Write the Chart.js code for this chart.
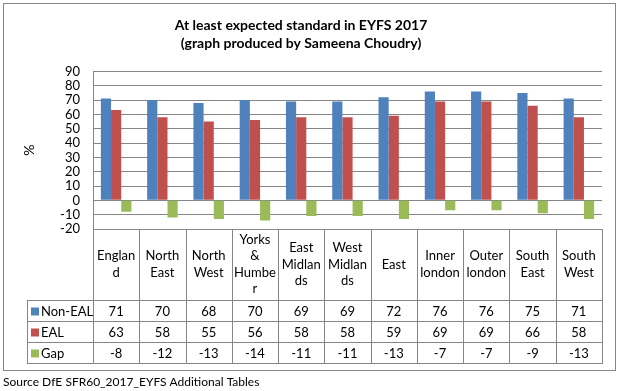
<!DOCTYPE html>
<html lang="en">
  <head>
    <meta charset="UTF-8" />
    <title>At least expected standard in EYFS 2017</title>
    <script src="https://cdn.jsdelivr.net/npm/chart.js"></script>
    <style>
      body { margin: 0; background: #fff; }
      canvas { display: block; }
    </style>
  </head>
  <body>
    <canvas id="eyfsChart" width="623" height="391"></canvas>

    <script>
      // region labels, already wrapped the way the table shows them
      const regionLabels = [
        ["Englan", "d"],
        ["North", "East"],
        ["North", "West"],
        ["Yorks", "&", "Humbe", "r"],
        ["East", "Midlan", "ds"],
        ["West", "Midlan", "ds"],
        ["East"],
        ["Inner", "london"],
        ["Outer", "london"],
        ["South", "East"],
        ["South", "West"],
      ];
      const nonEal = [71, 70, 68, 70, 69, 69, 72, 76, 76, 75, 71];
      const eal = [63, 58, 55, 56, 58, 58, 59, 69, 69, 66, 58];
      const gap = [-8, -12, -13, -14, -11, -11, -13, -7, -7, -9, -13];
      const yTicks = [90, 80, 70, 60, 50, 40, 30, 20, 10, 0, -10, -20];

      const lineGrey = "#868686";
      const fontFamily = "Lato, 'Open Sans', sans-serif";

      // data table under the plot, drawn from the x scale positions
      const dataTable = {
        id: "dataTable",
        beforeDraw(chart) {
          const ctx = chart.ctx;
          ctx.save();
          ctx.fillStyle = "#fff";
          ctx.fillRect(0, 0, chart.width, chart.height);
          ctx.restore();
        },
        afterDraw(chart) {
          const ctx = chart.ctx;
          const area = chart.chartArea;
          const x = chart.scales.x;
          const n = regionLabels.length;
          const colW = (area.right - area.left) / n;
          const headTop = area.bottom;
          const headBottom = 300;
          const rowH = 21;
          const tableBottom = headBottom + rowH * 3;
          const legendLeft = 27;

          ctx.save();
          ctx.strokeStyle = lineGrey;
          ctx.lineWidth = 1;
          ctx.beginPath();
          // vertical lines
          for (let i = 0; i <= n; i++) {
            const px = Math.round(area.left + i * colW) + 0.5;
            ctx.moveTo(px, headTop);
            ctx.lineTo(px, tableBottom);
          }
          ctx.moveTo(legendLeft + 0.5, headBottom);
          ctx.lineTo(legendLeft + 0.5, tableBottom);
          // horizontal lines
          for (let r = 0; r <= 3; r++) {
            const py = headBottom + r * rowH + 0.5;
            ctx.moveTo(legendLeft, py);
            ctx.lineTo(Math.round(area.right) + 1, py);
          }
          ctx.stroke();

          // header labels
          ctx.fillStyle = "#000";
          ctx.font = "13px " + fontFamily;
          ctx.textAlign = "center";
          ctx.textBaseline = "middle";
          const lineH = 16.5;
          const headMid = (headTop + headBottom) / 2;
          regionLabels.forEach((lines, i) => {
            const cx = x.getPixelForValue(i);
            const y0 = headMid - ((lines.length - 1) * lineH) / 2;
            lines.forEach((t, j) => ctx.fillText(t, cx, y0 + j * lineH));
          });

          // value rows with legend keys
          chart.data.datasets.forEach((ds, r) => {
            const cy = headBottom + r * rowH + rowH / 2 + 1;
            ctx.fillStyle = ds.backgroundColor;
            ctx.fillRect(31, cy - 4, 8, 8);
            ctx.fillStyle = "#000";
            ctx.textAlign = "left";
            ctx.fillText(ds.label, 41, cy);
            ctx.textAlign = "center";
            ds.data.forEach((v, i) => {
              ctx.fillText(String(v), x.getPixelForValue(i), cy);
            });
          });

          // outer frame and source note
          ctx.strokeStyle = lineGrey;
          ctx.strokeRect(3.5, 3.5, 612, 367);
          ctx.textAlign = "left";
          ctx.font = "12px " + fontFamily;
          ctx.fillText("Source DfE SFR60_2017_EYFS Additional Tables", 3, 382);
          ctx.restore();
        },
      };

      Chart.defaults.font.family = fontFamily;
      Chart.defaults.color = "#000";

      new Chart(document.getElementById("eyfsChart"), {
        type: "bar",
        data: {
          labels: regionLabels.map((l) => l.join(" ")),
          datasets: [
            { label: "Non-EAL", data: nonEal, backgroundColor: "#4F81BD" },
            { label: "EAL", data: eal, backgroundColor: "#C0504D" },
            { label: "Gap", data: gap, backgroundColor: "#9BBB59" },
          ],
        },
        options: {
          responsive: false,
          devicePixelRatio: 1,
          animation: false,
          datasets: {
            bar: { categoryPercentage: 0.66, barPercentage: 1 },
          },
          layout: { padding: { left: 0, right: 21, top: 0, bottom: 162 } },
          plugins: {
            legend: { display: false },
            tooltip: { enabled: false },
            title: {
              display: true,
              text: [
                "At least expected standard in EYFS 2017",
                "(graph produced by Sameena Choudry)",
              ],
              font: { size: 14, weight: "bold", lineHeight: 1.3 },
              color: "#000",
              padding: { top: 16, bottom: 19 },
            },
          },
          scales: {
            x: {
              display: false,
            },
            y: {
              min: -20,
              max: 90,
              afterBuildTicks: (s) => {
                s.ticks = yTicks.map((v) => ({ value: v }));
              },
              afterFit: (s) => {
                s.width = 93;
              },
              ticks: { font: { size: 13 }, padding: 13, autoSkip: false },
              grid: { color: lineGrey, drawTicks: false },
              border: { color: lineGrey },
              title: {
                display: true,
                text: "%",
                font: { size: 14 },
                padding: { top: 21, bottom: 0 },
              },
            },
          },
        },
        plugins: [dataTable],
      });
    </script>
  </body>
</html>
